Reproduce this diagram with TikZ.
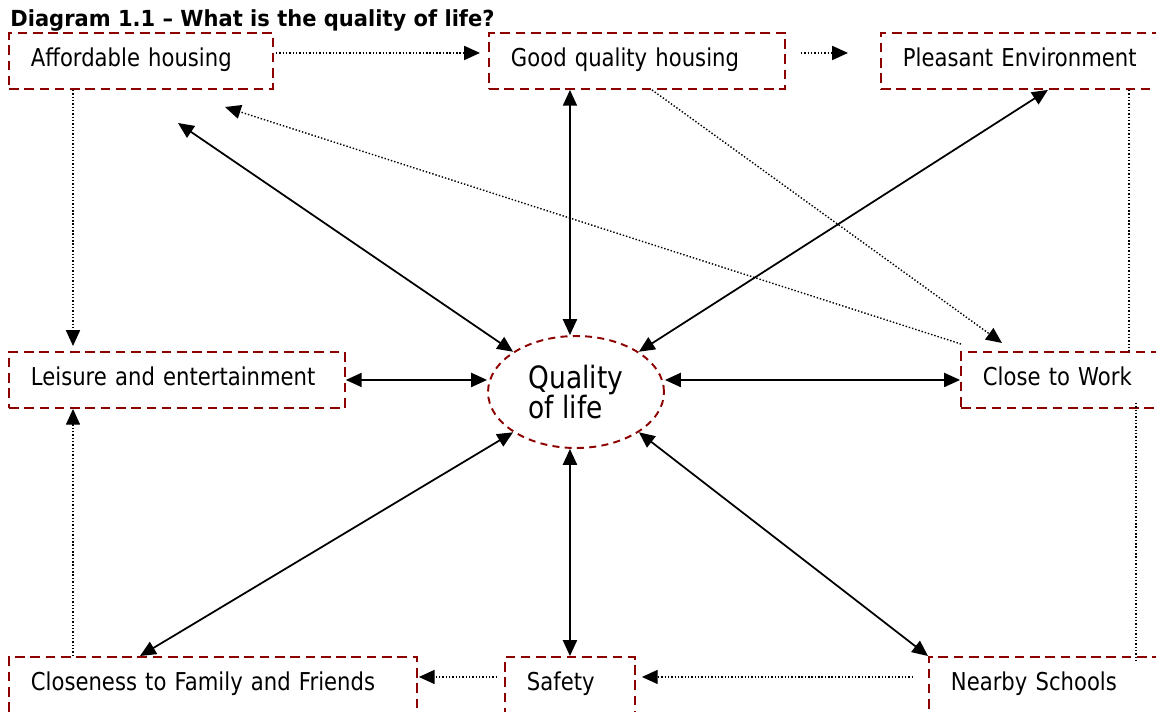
\documentclass[tikz,border=0pt]{standalone}
\usepackage{fontspec}
\setmainfont{DejaVu Sans}
\newfontfamily\boxfont{DejaVu Sans}[FakeStretch=0.86]
\newfontfamily\titlefont{DejaVu Sans}[FakeStretch=0.95]
\usetikzlibrary{arrows.meta, shapes.geometric, calc}
\definecolor{boxred}{RGB}{140,0,0}

\begin{document}
\begin{tikzpicture}[x=0.02cm, y=-0.02cm,
  box/.style={draw=boxred, line width=1.1pt, dash pattern=on 5.5pt off 3.2pt,
    anchor=north west, minimum height=1.12cm, inner xsep=0.44cm, inner ysep=0pt,
    text width=#1, text height=10pt, text depth=4pt, align=left,
    font=\boxfont\fontsize{14}{16}\selectfont},
  both/.style={{Triangle[length=9pt,width=8pt]}-{Triangle[length=9pt,width=8pt]}, line width=1pt},
  dots/.style={-{Triangle[length=9pt,width=8pt]}, line width=0.8pt, dash pattern=on 0.8pt off 1.1pt},
  plaindots/.style={line width=0.8pt, dash pattern=on 0.8pt off 1.1pt}]
\clip (0,0) rectangle (1156,711);
% Title
\node[anchor=base west, inner sep=0pt, font=\titlefont\bfseries\fontsize{12.6}{14}\selectfont] (title) at (10,26)
  {Diagram 1.1 – What is the quality of life?};
% Top row of boxes
\node[box=4.4cm] (afford) at (8,32) {Affordable housing};
\node[box=5.04cm] (good) at (488,32) {Good quality housing};
\node[box=5.8cm] (pleasant) at (880,32) {Pleasant Environment};
% Middle row
\node[box=5.84cm] (leisure) at (8,351) {Leisure and entertainment};
\node[ellipse, draw=boxred, line width=1.1pt, dash pattern=on 4pt off 3pt,
  minimum width=3.52cm, minimum height=2.24cm, inner sep=0pt, align=left,
  font=\boxfont\fontsize{17.5}{17}\selectfont] (q) at (576,392) {Quality\\of life};
\node[box=3.92cm] (close) at (960,351) {Close to Work};
% Bottom row
\node[box=7.28cm] (family) at (8,656) {Closeness to Family and Friends};
\node[box=1.72cm] (safety) at (504,656) {Safety};
\node[box=4.56cm] (schools) at (928,656) {Nearby Schools};
% Free ends
\coordinate (affordtip) at (178,123);
\coordinate (worktip) at (225,107);
% Solid links to the quality of life
\draw[both] (q.north west) -- (affordtip);
\draw[both] (q.north -| safety) -- (good.south -| safety);
\draw[both] (q.north east) -- (pleasant.south);
\draw[both] (q.west |- leisure.east) -- (leisure.east);
\draw[both] (q.east |- close.west) -- (close.west);
\draw[both] (q.south west) -- ($(family.north west)+(132,0)$);
\draw[both] (q.south -| safety) -- (safety.north);
\draw[both] (q.south east) -- (schools.north west);
% Dotted links between the boxes
\draw[dots] ($(afford.east)+(2,-8)$) -- ($(good.west)+(-8,-8)$);
\draw[dots] ($(good.east)+(15,-8)$) -- ($(pleasant.west)+(-32,-8)$);
\draw[dots] ($(afford.south west)+(65,0)$) -- ($(leisure.north west)+(65,-5)$);
\draw[dots] ($(family.north west)+(65,0)$) -- ($(leisure.south west)+(65,0)$);
\draw[dots] ($(safety.west)+(-7,-8)$) -- ($(family.east)+(1,-8)$);
\draw[dots] ($(schools.west)+(-15,-8)$) -- ($(safety.east)+(6,-8)$);
\draw[dots] ($(close.north west)+(1,-7)$) -- (worktip);
\draw[dots] ($(good.south west)+(164,0)$) -- ($(close.north west)+(42,-8)$);
\draw[plaindots] ($(pleasant.south west)+(249,0)$) -- ($(close.north west)+(169,0)$);
\draw[plaindots] ($(close.south west)+(176,-6)$) -- ($(schools.north west)+(208,7)$);
\end{tikzpicture}
\end{document}
